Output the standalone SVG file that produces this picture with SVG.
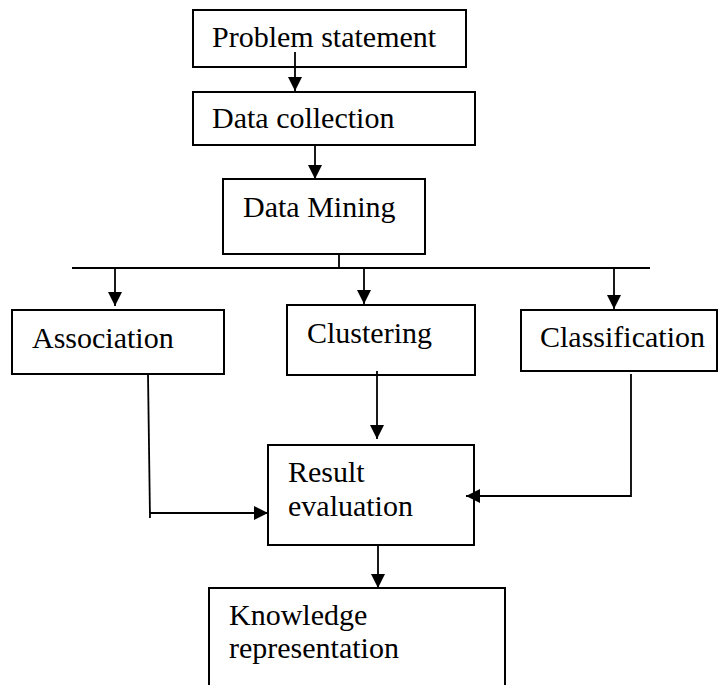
<svg xmlns="http://www.w3.org/2000/svg" width="719" height="685" viewBox="0 0 719 685">
<style>
.box{fill:#fff;stroke:#000;stroke-width:2}
.lbl{font-family:"Liberation Serif","Times New Roman",serif;font-size:30px;fill:#000}
.con{fill:none;stroke:#000;stroke-width:1.8}
</style>
<defs>
<marker id="ah" viewBox="0 0 14 14" refX="14" refY="7" markerWidth="14" markerHeight="14" markerUnits="userSpaceOnUse" orient="auto">
<path d="M0,0 L14,7 L0,14 z" fill="#000"/>
</marker>
</defs>
<rect width="719" height="685" fill="#fff"/>
<g id="problem"><rect class="box" x="193" y="10" width="273" height="57"/><text class="lbl" x="212" y="47">Problem statement</text></g>
<g id="collection"><rect class="box" x="193" y="92" width="282" height="53"/><text class="lbl" x="212" y="128">Data collection</text></g>
<g id="mining"><rect class="box" x="223" y="179" width="202" height="75"/><text class="lbl" x="243" y="217">Data Mining</text></g>
<g id="association"><rect class="box" x="12" y="310" width="212" height="64"/><text class="lbl" x="32" y="348">Association</text></g>
<g id="clustering"><rect class="box" x="287" y="305" width="188" height="70"/><text class="lbl" x="307" y="343">Clustering</text></g>
<g id="classification"><rect class="box" x="521" y="310" width="196" height="61"/><text class="lbl" x="540" y="347">Classification</text></g>
<g id="result"><rect class="box" x="268" y="445" width="206" height="100"/><text class="lbl" x="288" y="482">Result</text><text class="lbl" x="288" y="516">evaluation</text></g>
<g id="knowledge"><rect class="box" x="209" y="588" width="296" height="120"/><text class="lbl" x="229" y="625">Knowledge</text><text class="lbl" x="229" y="658">representation</text></g>
<g id="connectors">
<line class="con" x1="295" y1="52" x2="295" y2="91" marker-end="url(#ah)"/>
<line class="con" x1="315" y1="145" x2="315" y2="179" marker-end="url(#ah)"/>
<line class="con" x1="339" y1="254" x2="339" y2="268"/>
<line class="con" x1="72" y1="268" x2="650" y2="268"/>
<line class="con" x1="115" y1="268" x2="115" y2="306" marker-end="url(#ah)"/>
<line class="con" x1="364" y1="268" x2="364" y2="304" marker-end="url(#ah)"/>
<line class="con" x1="614" y1="268" x2="614" y2="309" marker-end="url(#ah)"/>
<polyline class="con" points="148,374 150,518"/>
<line class="con" x1="150" y1="513" x2="268" y2="513" marker-end="url(#ah)"/>
<line class="con" x1="377" y1="371" x2="377" y2="439" marker-end="url(#ah)"/>
<polyline class="con" points="631,374 631,496 466,496" marker-end="url(#ah)"/>
<line class="con" x1="378" y1="545" x2="378" y2="588" marker-end="url(#ah)"/>
</g>
</svg>
